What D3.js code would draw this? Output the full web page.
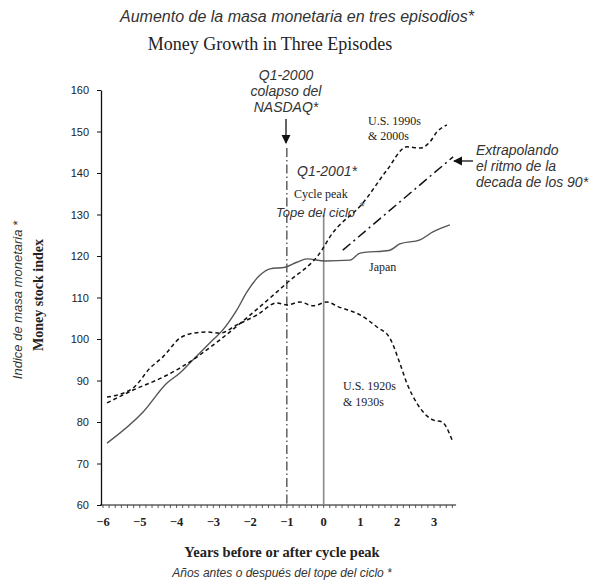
<!DOCTYPE html>
<html><head><meta charset="utf-8">
<script src="https://cdn.jsdelivr.net/npm/d3@7"></script>
<style>body{margin:0;background:#fff}svg{display:block}</style>
</head><body>
<script>
// ---- data (years relative to cycle peak, money stock index) ----
const japanYears = [-5.89,-4.91,-4.26,-3.91,-3.55,-3.01,-2.74,-2.36,-2.09,-1.73,-1.46,-1.05,-0.73,-0.45,0.04,0.72,0.99,1.80,2.07,2.62,2.97,3.43];
const japanValues = [74.9,82.4,89.4,91.8,95.0,99.8,102.2,107.0,111.3,115.4,116.9,117.3,118.5,119.3,118.8,119.0,120.7,121.4,122.9,123.9,125.8,127.5];
const us1920Years = [-5.89,-5.18,-4.72,-4.37,-3.91,-3.55,-3.17,-2.82,-2.36,-1.81,-1.27,-1.00,-0.64,-0.29,0.09,0.39,0.99,1.45,1.80,2.07,2.26,2.53,2.97,3.22,3.49];
const us1920Values = [86.0,88.2,93.0,95.7,100.2,101.4,101.7,101.4,103.4,105.8,108.7,108.2,108.9,108.0,108.9,107.8,105.8,102.9,100.2,94.2,89.4,84.6,80.5,80.0,75.7];
const us1990Years = [-5.89,-5.18,-4.37,-3.91,-2.82,-2.09,-1.00,-0.05,0.17,1.07,1.72,2.26,2.62,2.89,3.08,3.35];
const us1990Values = [84.6,87.7,90.8,93.0,99.8,105.1,113.5,121.4,124.6,132.8,140.7,146.3,146.0,147.5,149.9,151.6];
const extrapYears = [0.52, 3.52];
const extrapValues = [121.4, 143.9];
const yTicks = [60,70,80,90,100,110,120,130,140,150,160];
const xTicks = [-6,-5,-4,-3,-2,-1,0,1,2,3];
const nasdaqYear = -1, peakYear = 0, peakLineTop = 130;

const W = 592, H = 584;
const svg = d3.select("body").append("svg").attr("width", W).attr("height", H);
const x = d3.scaleLinear().domain([-6, 3]).range([103, 434]);
const y = d3.scaleLinear().domain([60, 160]).range([505, 90]);
const sans = "'Liberation Sans', Arial, sans-serif";
const serif = "'Liberation Serif', 'Times New Roman', serif";

// defs arrow
svg.append("defs").append("marker").attr("id","arr").attr("viewBox","0 0 10 10")
  .attr("refX",9).attr("refY",5).attr("markerWidth",7).attr("markerHeight",7).attr("orient","auto")
  .append("path").attr("d","M0,0L10,5L0,10z").attr("fill","#111");

// titles
svg.append("text").attr("x",297).attr("y",22).attr("text-anchor","middle")
  .attr("font-family",sans).attr("font-style","italic").attr("font-size",16).attr("fill","#333")
  .text("Aumento de  la masa monetaria  en tres episodios*");
svg.append("text").attr("x",270).attr("y",50).attr("text-anchor","middle")
  .attr("font-family",serif).attr("font-size",18).attr("fill","#222")
  .text("Money Growth in Three Episodes");

// y axis
const yAxis = svg.append("g").attr("transform","translate(101,0)")
  .call(d3.axisLeft(y).tickValues(yTicks).tickSize(4).tickSizeOuter(0).tickPadding(8));
yAxis.select(".domain").attr("stroke","#111").attr("stroke-width",1.3);
yAxis.selectAll(".tick line").attr("stroke","#111");
yAxis.selectAll("text").attr("font-family",sans).attr("font-size",11).attr("fill","#222");

// x axis
const xMinor = d3.range(-6, 3.6, 1/6);
const xa = svg.append("g").attr("transform","translate(0,505)");
xa.append("line").attr("x1",100).attr("x2",x(3.6)).attr("y1",0).attr("y2",0).attr("stroke","#111").attr("stroke-width",1.2);
xa.selectAll("line.minor").data(xMinor).join("line").attr("class","minor")
  .attr("x1",d=>x(d)).attr("x2",d=>x(d)).attr("y1",0).attr("y2",3).attr("stroke","#333").attr("stroke-width",0.8);
xa.selectAll("text").data(xTicks).join("text")
  .attr("x",d=>x(d)).attr("y",21).attr("text-anchor","middle")
  .attr("font-family",serif).attr("font-weight","bold").attr("font-size",12.5).attr("fill","#222")
  .text(d=>d<0?"\u2212"+Math.abs(d):d);

// axis titles
svg.append("text").attr("transform","translate(22,300) rotate(-90)").attr("text-anchor","middle")
  .attr("font-family",sans).attr("font-style","italic").attr("font-size",13).attr("fill","#333")
  .text("Indice de masa monetaria *");
svg.append("text").attr("transform","translate(43,295) rotate(-90)").attr("text-anchor","middle")
  .attr("font-family",serif).attr("font-weight","bold").attr("font-size",14).attr("fill","#222")
  .text("Money stock index");
svg.append("text").attr("x",282).attr("y",557).attr("text-anchor","middle")
  .attr("font-family",serif).attr("font-weight","bold").attr("font-size",14.5).attr("fill","#222")
  .text("Years before or after cycle peak");
svg.append("text").attr("x",282).attr("y",577).attr("text-anchor","middle")
  .attr("font-family",sans).attr("font-style","italic").attr("font-size",12).attr("fill","#333")
  .text("Años antes o después del tope del ciclo  *");

// reference verticals
svg.append("line").attr("x1",x(nasdaqYear)).attr("x2",x(nasdaqYear)).attr("y1",148).attr("y2",505)
  .attr("stroke","#111").attr("stroke-width",1).attr("stroke-dasharray","9,3,1.5,3");
svg.append("line").attr("x1",x(peakYear)).attr("x2",x(peakYear)).attr("y1",y(peakLineTop)).attr("y2",505)
  .attr("stroke","#888").attr("stroke-width",1.6);

// series
const line = d3.line().curve(d3.curveMonotoneX);
function mk(ys, vs){ return ys.map((t,i)=>[x(t), y(vs[i])]); }
svg.append("path").attr("d", line(mk(japanYears, japanValues)))
  .attr("fill","none").attr("stroke","#555").attr("stroke-width",1.4);
svg.append("path").attr("d", line(mk(us1920Years, us1920Values)))
  .attr("fill","none").attr("stroke","#111").attr("stroke-width",1.5).attr("stroke-dasharray","4,3");
svg.append("path").attr("d", line(mk(us1990Years, us1990Values)))
  .attr("fill","none").attr("stroke","#111").attr("stroke-width",1.5).attr("stroke-dasharray","4,3");
svg.append("path").attr("d", d3.line()(mk(extrapYears, extrapValues)))
  .attr("fill","none").attr("stroke","#111").attr("stroke-width",1.5).attr("stroke-dasharray","10,4,2,4");

// annotations
function txt(xp, yp, s, opt){
  const t = svg.append("text").attr("x",xp).attr("y",yp).text(s)
    .attr("font-family", opt.serif ? serif : sans)
    .attr("font-style", opt.serif ? "normal" : "italic")
    .attr("font-size", opt.size || 14).attr("fill", opt.serif ? "#222" : "#333")
    .attr("text-anchor", opt.anchor || "start");
  return t;
}
txt(286,80,"Q1-2000",{anchor:"middle"});
txt(286,96,"colapso del",{anchor:"middle"});
txt(286,112,"NASDAQ*",{anchor:"middle"});
svg.append("line").attr("x1",286).attr("x2",286).attr("y1",119).attr("y2",143)
  .attr("stroke","#111").attr("stroke-width",1.3).attr("marker-end","url(#arr)");
txt(297,176,"Q1-2001*",{});
txt(294,198,"Cycle peak",{serif:true,size:12});
txt(276,217,"Tope del ciclo",{size:13});
txt(359,211,"*",{size:13});
txt(368,125,"U.S. 1990s",{serif:true,size:12});
txt(368,140,"& 2000s",{serif:true,size:12});
txt(476,155,"Extrapolando",{});
txt(476,171,"el ritmo de la",{});
txt(476,187,"decada de los 90*",{});
svg.append("line").attr("x1",473).attr("x2",454).attr("y1",161).attr("y2",161)
  .attr("stroke","#111").attr("stroke-width",1.3).attr("marker-end","url(#arr)");
txt(369,271,"Japan",{serif:true,size:12});
txt(343,390,"U.S. 1920s",{serif:true,size:12});
txt(343,406,"& 1930s",{serif:true,size:12});
</script>
</body></html>
